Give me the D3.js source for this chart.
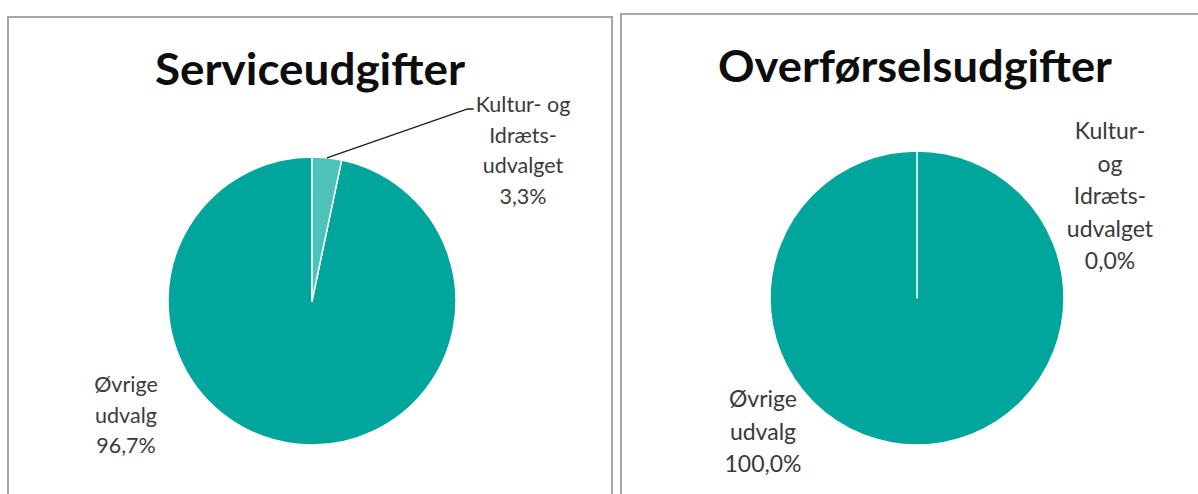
<!DOCTYPE html>
<html lang="da">
<head>
  <meta charset="UTF-8">
  <title>Serviceudgifter / Overførselsudgifter</title>
  <script src="https://cdn.jsdelivr.net/npm/d3@7"></script>
  <style>
    body { margin: 0; background: #fff; font-family: Lato, 'Open Sans', sans-serif; }
    .title { font-weight: 700; fill: #0d0d0d; }
    .lbl { fill: #3a3a3a; text-anchor: middle; }
    .frame { fill: #fff; stroke: #a6a6a6; stroke-width: 2; }
  </style>
</head>
<body>
<svg id="chart" width="1198" height="494"></svg>
<script>
// data
const categories = ["Kultur- og Idræts-udvalget", "Øvrige udvalg"];
const serviceValues = [3.3, 96.7];
const overfoerselValues = [0.0, 100.0];
const titles = ["Serviceudgifter", "Overførselsudgifter"];
// label text broken like in the original
const serviceLabels = [["Kultur- og", "Idræts-", "udvalget"], ["Øvrige", "udvalg"]];
const overfoerselLabels = [["Kultur-", "og", "Idræts-", "udvalget"], ["Øvrige", "udvalg"]];

const colors = d3.scaleOrdinal().domain(categories).range(["#4dc2b9", "#00a59b"]);
const fmt = v => d3.format(".1f")(v).replace(".", ",") + "%";

const svg = d3.select("#chart");

// layout for the two panels
const panels = [
  { values: serviceValues, labels: serviceLabels, title: titles[0],
    frame: [8, 17, 604, 500], cx: 312, cy: 301, r: 144,
    titleX: 155, titleY: 85, titleW: 310, fs: 21.5, lh: 30.5,
    lblPos: [[523, 112], [126, 392]], leader: true },
  { values: overfoerselValues, labels: overfoerselLabels, title: titles[1],
    frame: [621, 14, 600, 500], cx: 917, cy: 298, r: 147,
    titleX: 718, titleY: 82, titleW: 394, fs: 23, lh: 32.5,
    lblPos: [[1110, 139], [763, 407]], leader: false }
];

const pie = d3.pie().sort(null).value(d => d);

panels.forEach(p => {
  svg.append("rect").attr("class", "frame")
    .attr("x", p.frame[0]).attr("y", p.frame[1])
    .attr("width", p.frame[2]).attr("height", p.frame[3]);

  svg.append("text").attr("class", "title")
    .attr("x", p.titleX).attr("y", p.titleY)
    .attr("font-size", 43)
    .attr("textLength", p.titleW).attr("lengthAdjust", "spacingAndGlyphs")
    .text(p.title);

  const arc = d3.arc().innerRadius(0).outerRadius(p.r);
  const g = svg.append("g").attr("transform", `translate(${p.cx},${p.cy})`);
  const arcs = pie(p.values);

  // big slice first so the small one sits on top
  g.selectAll("path")
    .data(arcs.slice().reverse())
    .join("path")
    .attr("d", arc)
    .attr("fill", d => colors(categories[d.index]))
    .attr("stroke", "#fff")
    .attr("stroke-width", 1.5)
    .attr("stroke-linejoin", "round");

  const firstLines = [];
  arcs.forEach((a, i) => {
    const lines = p.labels[i].concat([fmt(p.values[i])]);
    const [lx, ly] = p.lblPos[i];
    const t = svg.append("text").attr("class", "lbl")
      .attr("font-size", p.fs);
    lines.forEach((s, k) => {
      const ts = t.append("tspan").attr("x", lx).attr("y", ly + k * p.lh).text(s);
      if (k === 0) firstLines.push(ts.node());
    });
  });

  if (p.leader) {
    // leader from the small slice to the left edge of its label
    const a = arcs[0];
    const mid = (a.startAngle + a.endAngle) / 2;
    const sx = p.cx + Math.sin(mid) * p.r;
    const sy = p.cy - Math.cos(mid) * p.r;
    const w = firstLines[0].getComputedTextLength();
    const ex = p.lblPos[0][0] - w / 2 - 2, ey = p.lblPos[0][1] - 3;
    svg.append("polyline")
      .attr("points", `${sx},${sy} ${ex - 6},${ey} ${ex},${ey}`)
      .attr("fill", "none").attr("stroke", "#1a1a1a").attr("stroke-width", 1.3);
  }
});
</script>
</body>
</html>
